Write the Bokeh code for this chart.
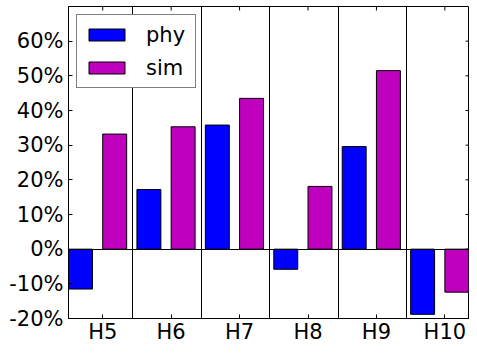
import math
from bokeh.plotting import figure
from bokeh.models import (Range1d, FixedTicker, LinearAxis, PrintfTickFormatter,
                          Legend, LegendItem, ColumnDataSource)
from bokeh.embed import file_html
from bokeh.resources import INLINE

categories = ["H5", "H6", "H7", "H8", "H9", "H10"]
phy = [-11.5, 17.2, 35.8, -5.8, 29.6, -18.8]
sim = [33.2, 35.3, 43.5, 18.1, 51.5, -12.4]
y_ticks = [-20, -10, 0, 10, 20, 30, 40, 50, 60]

idx = list(range(len(categories)))
BAR_W = 0.35
X0, X1 = -0.5, 5.36
Y0, Y1 = -20, 70
src = ColumnDataSource(dict(
    x_phy=[i - 0.325 for i in idx],
    x_sim=[i + 0.175 for i in idx],
    phy=phy, sim=sim,
))

FONT = "DejaVu Sans"
W, H = 469, 346
p = figure(width=W, height=H, output_backend="svg", toolbar_location=None,
           x_range=Range1d(X0, X1), y_range=Range1d(Y0, Y1),
           min_border_left=68, min_border_right=0, min_border_top=6,
           min_border_bottom=0, x_axis_type=None, y_axis_type=None)
p.xgrid.visible = False
p.ygrid.visible = False
p.outline_line_color = "black"
p.outline_line_width = 1
p.background_fill_color = "white"
p.border_fill_color = "white"

def style(ax):
    ax.major_tick_in = 4
    ax.major_tick_out = 0
    ax.minor_tick_in = 0
    ax.minor_tick_out = 0
    ax.axis_line_color = "black"
    ax.major_tick_line_color = "black"
    ax.major_label_text_font = FONT
    ax.major_label_text_font_size = "21px"
    ax.major_label_text_color = "black"

xb = LinearAxis(ticker=FixedTicker(ticks=idx),
                major_label_overrides={i: c for i, c in zip(idx, categories)})
style(xb)
xb.major_label_standoff = 1
p.add_layout(xb, "below")

yl = LinearAxis(ticker=FixedTicker(ticks=y_ticks),
                formatter=PrintfTickFormatter(format="%d%%"))
style(yl)
yl.major_label_standoff = 5
p.add_layout(yl, "left")

# inward ticks on top and right edges (clipped to the frame)
p.scatter(x=idx, y=[Y1] * len(idx), marker="dash", angle=math.pi / 2,
          size=8, line_color="black", line_width=1)
p.scatter(x=[X1] * len(y_ticks), y=y_ticks, marker="dash",
          size=8, line_color="black", line_width=1)

r_phy = p.vbar(x="x_phy", width=BAR_W, top="phy", bottom=0, source=src,
               fill_color="#0000ff", line_color="black", line_width=1)
r_sim = p.vbar(x="x_sim", width=BAR_W, top="sim", bottom=0, source=src,
               fill_color="#bf00bf", line_color="black", line_width=1)

p.vspan(x=[i + 0.44 for i in idx[:-1]], line_color="black", line_width=1)
p.hspan(y=[0], line_color="black", line_width=1)

legend = Legend(items=[LegendItem(label="phy", renderers=[r_phy]),
                       LegendItem(label="sim", renderers=[r_sim])],
                location="top_left")
legend.margin = 8
legend.padding = 7
legend.spacing = 8
legend.glyph_width = 45
legend.glyph_height = 15
legend.label_height = 25
legend.label_width = 42
legend.label_standoff = 17
legend.label_text_font = FONT
legend.label_text_font_size = "21px"
legend.label_text_color = "black"
legend.border_line_color = "black"
legend.border_line_width = 1
legend.background_fill_color = "white"
legend.background_fill_alpha = 1
p.add_layout(legend, "center")

open("out.html", "w").write(file_html(p, INLINE))
